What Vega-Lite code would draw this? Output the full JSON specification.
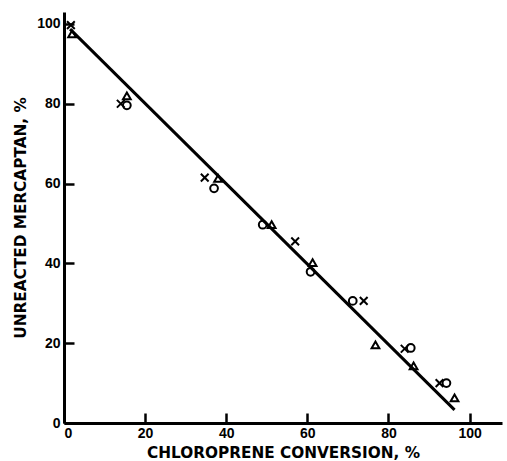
{
  "$schema": "https://vega.github.io/schema/vega-lite/v6.json",
  "width": 438,
  "height": 411,
  "autosize": "none",
  "padding": {"left": 64, "top": 12, "right": 5, "bottom": 38},
  "background": "white",
  "config": {
    "view": {"stroke": null},
    "axis": {
      "domainColor": "black",
      "domainWidth": 3,
      "tickColor": "black",
      "tickWidth": 2.5,
      "tickSize": -10,
      "grid": false,
      "labelFont": "Liberation Sans",
      "labelFontWeight": "bold",
      "labelFontSize": 14,
      "labelColor": "black",
      "titleFont": "DejaVu Sans",
      "titleFontWeight": "bold",
      "titleFontSize": 15.3,
      "titleColor": "black"
    }
  },
  "datasets": {
    "fit": [{"x": 1.5, "y": 98.7}, {"x": 96.3, "y": 3.3}],
    "obs": [
      {"x": 15.5, "y": 79.6, "s": "circle"},
      {"x": 37, "y": 58.8, "s": "circle"},
      {"x": 49, "y": 49.7, "s": "circle"},
      {"x": 60.8, "y": 37.9, "s": "circle"},
      {"x": 71.2, "y": 30.6, "s": "circle"},
      {"x": 85.5, "y": 18.8, "s": "circle"},
      {"x": 94.3, "y": 10, "s": "circle"},
      {"x": 2, "y": 97.5, "s": "triangle"},
      {"x": 15.5, "y": 82, "s": "triangle"},
      {"x": 38, "y": 61.3, "s": "triangle"},
      {"x": 51.2, "y": 49.7, "s": "triangle"},
      {"x": 61.3, "y": 40.2, "s": "triangle"},
      {"x": 76.8, "y": 19.6, "s": "triangle"},
      {"x": 86.2, "y": 14.3, "s": "triangle"},
      {"x": 96.3, "y": 6.3, "s": "triangle"},
      {"x": 1.7, "y": 99.7, "s": "x"},
      {"x": 14, "y": 80, "s": "x"},
      {"x": 34.7, "y": 61.5, "s": "x"},
      {"x": 57, "y": 45.5, "s": "x"},
      {"x": 73.9, "y": 30.6, "s": "x"},
      {"x": 84, "y": 18.6, "s": "x"},
      {"x": 92.6, "y": 10, "s": "x"}
    ]
  },
  "layer": [
    {
      "data": {"name": "fit"},
      "mark": {"type": "line", "color": "black", "strokeWidth": 3},
      "encoding": {
        "x": {"field": "x", "type": "quantitative", "scale": {"domain": [0, 108], "nice": false},
              "axis": {"values": [0, 20, 40, 60, 80, 100], "title": "CHLOROPRENE CONVERSION, %", "labelPadding": 13, "titlePadding": 5}},
        "y": {"field": "y", "type": "quantitative", "scale": {"domain": [0, 103], "nice": false},
              "axis": {"values": [0, 20, 40, 60, 80, 100], "title": "UNREACTED MERCAPTAN, %", "labelPadding": 14, "titlePadding": 8}}
      }
    },
    {
      "data": {"name": "obs"},
      "mark": {"type": "point", "filled": false, "stroke": "black", "strokeWidth": 2, "opacity": 1, "size": 60},
      "encoding": {
        "x": {"field": "x", "type": "quantitative"},
        "y": {"field": "y", "type": "quantitative"},
        "shape": {"field": "s", "type": "nominal",
                  "scale": {"domain": ["circle", "triangle", "x"], "range": ["circle", "triangle-up", "M-1,-1L1,1M-1,1L1,-1"]},
                  "legend": null}
      }
    }
  ]
}
